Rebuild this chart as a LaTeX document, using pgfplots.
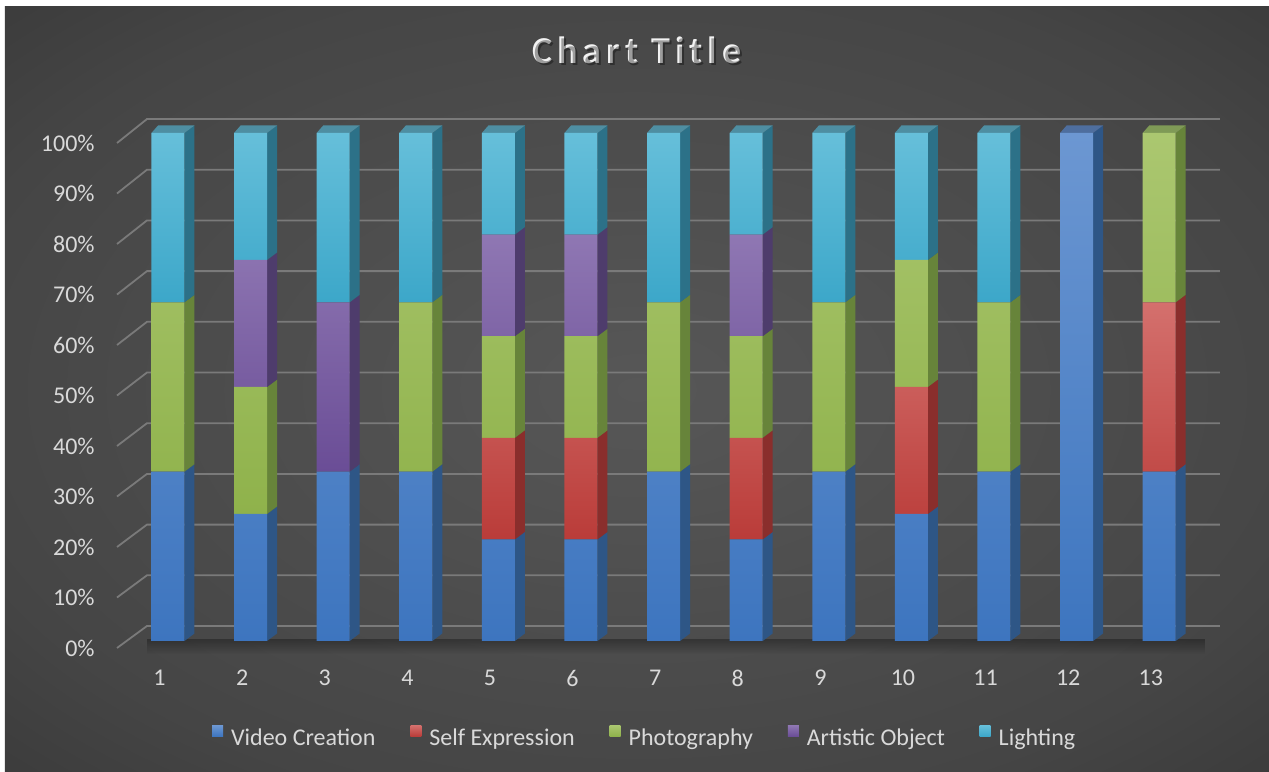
\documentclass[border=0pt]{standalone}
\usepackage{fontspec}
\setmainfont{Carlito}
\usepackage{pgfplots}
\pgfplotsset{compat=1.18}
\usetikzlibrary{fadings}
\definecolor{bgin}{HTML}{575757}
\definecolor{bgmid}{HTML}{454545}
\definecolor{bgout}{HTML}{2B2B2B}
\definecolor{gridc}{HTML}{7A7A7A}
\definecolor{lbl}{HTML}{D9D9D9}
\definecolor{blueT}{HTML}{6C97D2}\definecolor{blueB}{HTML}{3D75BF}\definecolor{blueS}{HTML}{2E5686}\definecolor{blueTop}{HTML}{4E6E9E}
\definecolor{redT}{HTML}{D4706D}\definecolor{redB}{HTML}{BA3C39}\definecolor{redS}{HTML}{8A2E2C}
\definecolor{greenT}{HTML}{ABC770}\definecolor{greenB}{HTML}{8FB24B}\definecolor{greenS}{HTML}{67843A}\definecolor{greenTop}{HTML}{7F9A56}
\definecolor{purpT}{HTML}{8F77B3}\definecolor{purpB}{HTML}{6A4D96}\definecolor{purpS}{HTML}{4E3C6C}
\definecolor{cyanT}{HTML}{66BFDA}\definecolor{cyanB}{HTML}{3CA7C9}\definecolor{cyanS}{HTML}{2C7188}\definecolor{cyanTop}{HTML}{4E8EA2}
\pgfdeclareradialshading{bgshade}{\pgfpoint{0bp}{0bp}}{color(0bp)=(bgin); color(28bp)=(bgmid); color(50bp)=(bgout)}
\pgfplotsset{
  geom/.style={x=41.3bp, y=2.54bp, xmin=0.383, xmax=13.736, ymin=-1.38, ymax=102.76, clip=false, enlargelimits=false}
}
\begin{document}
\begin{tikzpicture}
\fill[white] (-58.5bp,-62bp) rectangle (576bp,324bp);
\shade[shading=bgshade] (-56bp,-62bp) rectangle (576bp,320.5bp);
% ---------- back wall, grid, side and top faces ----------
\begin{axis}[geom, hide axis, unbounded coords=jump]
\pgfplotsinvokeforeach{0,10,...,100}{
  \draw[gridc, line width=0.9bp] (axis cs:0.383,{-1.38+0.994*#1}) -- (axis cs:0.746,{2.95+0.998*#1}) -- (axis cs:13.736,{2.95+0.998*#1});
}
\fill[black, opacity=0.3, path fading=south] (axis cs:0.75,0.3) rectangle (axis cs:13.55,-2.6);
% side faces
\addplot[fill=blueS, draw=none] coordinates {
(1.2,0) (1.321,1.48) (1.321,34.81) (1.2,33.33) (nan,nan)
(2.2,0) (2.321,1.48) (2.321,26.48) (2.2,25) (nan,nan)
(3.2,0) (3.321,1.48) (3.321,34.81) (3.2,33.33) (nan,nan)
(4.2,0) (4.321,1.48) (4.321,34.81) (4.2,33.33) (nan,nan)
(5.2,0) (5.321,1.48) (5.321,21.48) (5.2,20) (nan,nan)
(6.2,0) (6.321,1.48) (6.321,21.48) (6.2,20) (nan,nan)
(7.2,0) (7.321,1.48) (7.321,34.81) (7.2,33.33) (nan,nan)
(8.2,0) (8.321,1.48) (8.321,21.48) (8.2,20) (nan,nan)
(9.2,0) (9.321,1.48) (9.321,34.81) (9.2,33.33) (nan,nan)
(10.2,0) (10.321,1.48) (10.321,26.48) (10.2,25) (nan,nan)
(11.2,0) (11.321,1.48) (11.321,34.81) (11.2,33.33) (nan,nan)
(12.2,0) (12.321,1.48) (12.321,101.48) (12.2,100) (nan,nan)
(13.2,0) (13.321,1.48) (13.321,34.81) (13.2,33.33)
};
\addplot[fill=redS, draw=none] coordinates {
(5.2,20) (5.321,21.48) (5.321,41.48) (5.2,40) (nan,nan)
(6.2,20) (6.321,21.48) (6.321,41.48) (6.2,40) (nan,nan)
(8.2,20) (8.321,21.48) (8.321,41.48) (8.2,40) (nan,nan)
(10.2,25) (10.321,26.48) (10.321,51.48) (10.2,50) (nan,nan)
(13.2,33.33) (13.321,34.81) (13.321,68.15) (13.2,66.67)
};
\addplot[fill=greenS, draw=none] coordinates {
(1.2,33.33) (1.321,34.81) (1.321,68.15) (1.2,66.67) (nan,nan)
(2.2,25) (2.321,26.48) (2.321,51.48) (2.2,50) (nan,nan)
(4.2,33.33) (4.321,34.81) (4.321,68.15) (4.2,66.67) (nan,nan)
(5.2,40) (5.321,41.48) (5.321,61.48) (5.2,60) (nan,nan)
(6.2,40) (6.321,41.48) (6.321,61.48) (6.2,60) (nan,nan)
(7.2,33.33) (7.321,34.81) (7.321,68.15) (7.2,66.67) (nan,nan)
(8.2,40) (8.321,41.48) (8.321,61.48) (8.2,60) (nan,nan)
(9.2,33.33) (9.321,34.81) (9.321,68.15) (9.2,66.67) (nan,nan)
(10.2,50) (10.321,51.48) (10.321,76.48) (10.2,75) (nan,nan)
(11.2,33.33) (11.321,34.81) (11.321,68.15) (11.2,66.67) (nan,nan)
(13.2,66.67) (13.321,68.15) (13.321,101.48) (13.2,100)
};
\addplot[fill=purpS, draw=none] coordinates {
(2.2,50) (2.321,51.48) (2.321,76.48) (2.2,75) (nan,nan)
(3.2,33.33) (3.321,34.81) (3.321,68.15) (3.2,66.67) (nan,nan)
(5.2,60) (5.321,61.48) (5.321,81.48) (5.2,80) (nan,nan)
(6.2,60) (6.321,61.48) (6.321,81.48) (6.2,80) (nan,nan)
(8.2,60) (8.321,61.48) (8.321,81.48) (8.2,80)
};
\addplot[fill=cyanS, draw=none] coordinates {
(1.2,66.67) (1.321,68.15) (1.321,101.48) (1.2,100) (nan,nan)
(2.2,75) (2.321,76.48) (2.321,101.48) (2.2,100) (nan,nan)
(3.2,66.67) (3.321,68.15) (3.321,101.48) (3.2,100) (nan,nan)
(4.2,66.67) (4.321,68.15) (4.321,101.48) (4.2,100) (nan,nan)
(5.2,80) (5.321,81.48) (5.321,101.48) (5.2,100) (nan,nan)
(6.2,80) (6.321,81.48) (6.321,101.48) (6.2,100) (nan,nan)
(7.2,66.67) (7.321,68.15) (7.321,101.48) (7.2,100) (nan,nan)
(8.2,80) (8.321,81.48) (8.321,101.48) (8.2,100) (nan,nan)
(9.2,66.67) (9.321,68.15) (9.321,101.48) (9.2,100) (nan,nan)
(10.2,75) (10.321,76.48) (10.321,101.48) (10.2,100) (nan,nan)
(11.2,66.67) (11.321,68.15) (11.321,101.48) (11.2,100)
};
% top faces
\addplot[fill=cyanTop, draw=none] coordinates {
(0.8,100) (1.2,100) (1.321,101.48) (0.88,101.48) (nan,nan)
(1.8,100) (2.2,100) (2.321,101.48) (1.88,101.48) (nan,nan)
(2.8,100) (3.2,100) (3.321,101.48) (2.88,101.48) (nan,nan)
(3.8,100) (4.2,100) (4.321,101.48) (3.88,101.48) (nan,nan)
(4.8,100) (5.2,100) (5.321,101.48) (4.88,101.48) (nan,nan)
(5.8,100) (6.2,100) (6.321,101.48) (5.88,101.48) (nan,nan)
(6.8,100) (7.2,100) (7.321,101.48) (6.88,101.48) (nan,nan)
(7.8,100) (8.2,100) (8.321,101.48) (7.88,101.48) (nan,nan)
(8.8,100) (9.2,100) (9.321,101.48) (8.88,101.48) (nan,nan)
(9.8,100) (10.2,100) (10.321,101.48) (9.88,101.48) (nan,nan)
(10.8,100) (11.2,100) (11.321,101.48) (10.88,101.48)
};
\addplot[fill=blueTop, draw=none] coordinates {(11.8,100) (12.2,100) (12.321,101.48) (11.88,101.48)};
\addplot[fill=greenTop, draw=none] coordinates {(12.8,100) (13.2,100) (13.321,101.48) (12.88,101.48)};
\end{axis}
% ---------- front faces (data) ----------
\begin{axis}[geom,
  ybar stacked, bar width=0.4,
  axis line style={draw=none}, tick style={draw=none}, major tick length=0pt,
  xtick={1,2,3,4,5,6,7,8,9,10,11,12,13},
  xticklabels={1,2,3,4,5,6,7,8,9,10,11,12,13},
  ytick={-1.38,8.56,18.5,28.44,38.38,48.32,58.26,68.2,78.14,88.08,98.02},
  yticklabels={0\%,10\%,20\%,30\%,40\%,50\%,60\%,70\%,80\%,90\%,100\%},
  every tick label/.append style={text=lbl, font=\fontsize{12bp}{14bp}\selectfont},
  yticklabel style={anchor=east, inner sep=0pt, xshift=-11bp},
  xticklabel style={anchor=center, inner sep=0pt, yshift=-15bp, xshift=-4.2bp},
  legend columns=5,
  legend image code/.code={\fill[#1] (0bp,1.1bp) rectangle (5.5bp,6.6bp);},
  legend style={at={(0.4775,-0.168)}, anchor=center, draw=none, fill=none, text=lbl,
    font=\fontsize{12bp}{14bp}\selectfont, nodes={inner sep=0pt},
    /tikz/every odd column/.append style={column sep=4bp},
    /tikz/every even column/.append style={column sep=17.4bp}},
]
\addplot[draw=none, top color=blueT, bottom color=blueB] coordinates {(1,33.33) (2,25) (3,33.33) (4,33.33) (5,20) (6,20) (7,33.33) (8,20) (9,33.33) (10,25) (11,33.33) (12,100) (13,33.33)};
\addplot[draw=none, top color=redT, bottom color=redB] coordinates {(1,0) (2,0) (3,0) (4,0) (5,20) (6,20) (7,0) (8,20) (9,0) (10,25) (11,0) (12,0) (13,33.34)};
\addplot[draw=none, top color=greenT, bottom color=greenB] coordinates {(1,33.34) (2,25) (3,0) (4,33.34) (5,20) (6,20) (7,33.34) (8,20) (9,33.34) (10,25) (11,33.34) (12,0) (13,33.33)};
\addplot[draw=none, top color=purpT, bottom color=purpB] coordinates {(1,0) (2,25) (3,33.34) (4,0) (5,20) (6,20) (7,0) (8,20) (9,0) (10,0) (11,0) (12,0) (13,0)};
\addplot[draw=none, top color=cyanT, bottom color=cyanB] coordinates {(1,33.33) (2,25) (3,33.33) (4,33.33) (5,20) (6,20) (7,33.33) (8,20) (9,33.33) (10,25) (11,33.33) (12,0) (13,0)};
\legend{Video Creation, Self Expression, Photography, Artistic Object, Lighting}
\node[text=black, opacity=0.35, font=\bfseries\fontsize{19bp}{22bp}\selectfont\addfontfeature{LetterSpace=13}] at (axis cs:6.678,116.34) [xshift=0.9bp, yshift=-1.3bp] {Chart Title};
\node[text=white!95!black, font=\bfseries\fontsize{19bp}{22bp}\selectfont\addfontfeature{LetterSpace=13}] at (axis cs:6.678,116.34) {Chart Title};
\end{axis}
\end{tikzpicture}
\end{document}
